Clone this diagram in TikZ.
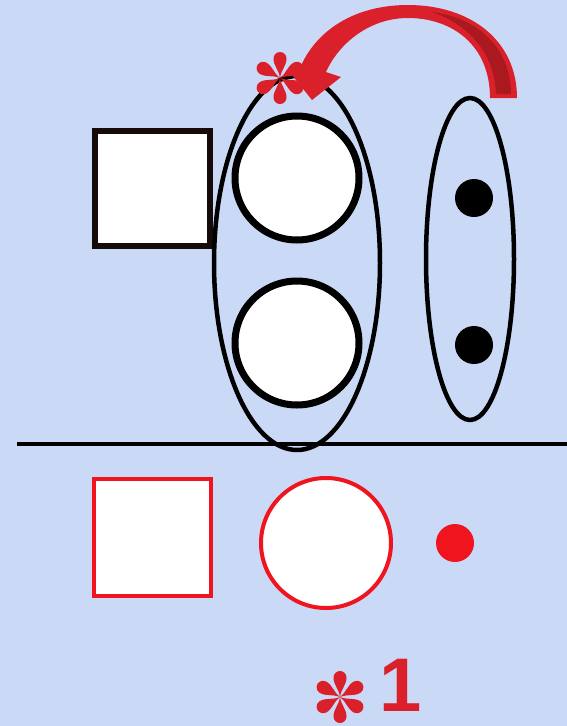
\documentclass[tikz,border=0pt]{standalone}
\usepackage{fontspec}
\setmainfont{Liberation Sans}
\definecolor{bgblue}{RGB}{202,218,246}
\definecolor{arrred}{RGB}{218,32,42}
\definecolor{arrdark}{RGB}{170,24,32}
\definecolor{pured}{RGB}{240,20,30}
\definecolor{nearblack}{RGB}{22,10,10}
\tikzset{
  blk/.style={draw=black, fill=white, inner sep=0pt},
  redbox/.style={draw=pured, fill=white, inner sep=0pt, line width=4pt},
  bigcirc/.style={blk, circle, line width=7pt, minimum size=124pt},
  dot/.style={circle, fill=black, inner sep=0pt, minimum size=38pt},
  petal/.pic={\fill (0,0) .. controls (9,-1.4) and (12,-6.5) .. (19.5,-6.5) arc[start angle=-90, end angle=90, radius=6.5] .. controls (12,6.5) and (9,1.4) .. (0,0);},
  astk/.pic={\foreach \a in {30,90,...,330} {\pic[rotate=\a] {petal};}}
}
\begin{document}
\begin{tikzpicture}[x=1pt,y=-1pt]
\fill[bgblue] (0,0) rectangle (567,726);
\useasboundingbox (0,0) rectangle (567,726);
% top row
\node[blk, draw=nearblack, line width=6pt, minimum width=115pt, minimum height=115pt] (sq) at (152.5,188.5) {};
\node[bigcirc] (c1) at (297,178) {};
\node[bigcirc] (c2) at (297,343) {};
\draw[line width=4.5pt] (297,263) ellipse [x radius=83, y radius=187];
\draw[line width=4.5pt] (470,259) ellipse [x radius=44, y radius=161];
\node[dot] (d1) at (474,198) {};
\node[dot] (d2) at (474,345) {};
% dividing line
\draw[line width=4pt] (17,444) -- (567,444);
% bottom row
\node[redbox, minimum width=117pt, minimum height=117pt] (rsq) at (152.5,537) {};
\node[redbox, circle, minimum size=130pt] (rc) at (326,543) {};
\node[circle, fill=pured, inner sep=0pt, minimum size=38pt] (rd) at (455,543) {};
% curved arrow
\fill[arrred] (517,98) -- (490,98) .. controls (490,45) and (452,18) .. (408,18)
  .. controls (368,18) and (338,45) .. (326,72) -- (341,77) -- (312,100) -- (288,70) -- (300,68)
  .. controls (316,30) and (355,5) .. (408,5) .. controls (470,5) and (517,40) .. cycle;
\fill[arrdark] (511,94) -- (496,94) .. controls (495,55) and (470,25) .. (432,12)
  .. controls (480,18) and (511,50) .. cycle;
% asterisks
\pic[arrred] at (280,78) {astk};
\pic[arrred] at (340,697) {astk};
\node[text=arrred, font=\bfseries\fontsize{76}{76}\selectfont, inner sep=0pt, anchor=base] (one) at (401,711) {1};
\end{tikzpicture}
\end{document}
